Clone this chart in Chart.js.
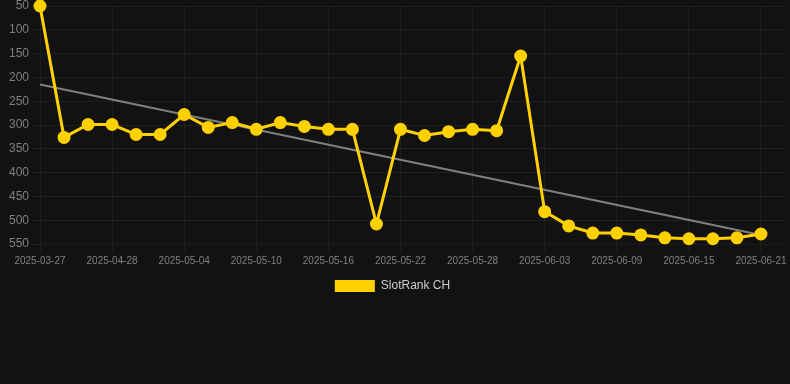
<!DOCTYPE html>
<html><head><meta charset="utf-8">
<script src="https://cdn.jsdelivr.net/npm/chart.js@4/dist/chart.umd.min.js"></script>
<style>html,body{margin:0;padding:0;background:#121212;}#wrap{width:790px;height:302px;position:relative;}</style>
</head><body><div id="wrap"><canvas id="c"></canvas></div>
<script>
const dates = ["2025-03-27","2025-04-24","2025-04-26","2025-04-28","2025-04-30","2025-05-02","2025-05-04","2025-05-06","2025-05-08","2025-05-10","2025-05-12","2025-05-14","2025-05-16","2025-05-18","2025-05-20","2025-05-22","2025-05-24","2025-05-26","2025-05-28","2025-05-30","2025-06-01","2025-06-03","2025-06-05","2025-06-07","2025-06-09","2025-06-11","2025-06-13","2025-06-15","2025-06-17","2025-06-19","2025-06-21","2025-06-23"];
const ranks = [50,326,299,299,320,320,278,305,295,309,295,303,309,309,508,309,322,314,309,312,155,482,512,527,527,531,537,539,539,537,529,null];
const trendStart = 215;
const trendEnd = 531;
const trendEndIndex = 30;
const yTicks = [50,100,150,200,250,300,350,400,450,500,550];
const trend = dates.map((d,i)=> i===0 ? trendStart : (i===trendEndIndex ? trendEnd : null));
new Chart(document.getElementById('c'), {
  type: 'line',
  data: { labels: dates, datasets: [
    { label: 'SlotRank CH', data: ranks, borderColor: '#FFD100', backgroundColor: '#FFD100', borderWidth: 3, pointRadius: 5, pointBackgroundColor:'#FFD100', tension: 0, order: 1, clip: false },
    { label: 'trend', data: trend, spanGaps: true, borderColor: 'rgba(140,140,140,0.9)', borderWidth: 2, pointRadius: 0, order: 2 }
  ]},
  options: {
    responsive: true, maintainAspectRatio: false, animation: false,
    layout: { autoPadding: false, padding: { top: 6, right: 5 } },
    plugins: { legend: { position: 'bottom', labels: { color: '#cccccc', font: { size: 12, family: 'Arial, Liberation Sans' }, boxWidth: 40, boxHeight: 12,
      generateLabels: (chart)=> Chart.defaults.plugins.legend.labels.generateLabels(chart).filter(it=>it.text!=='trend').map(it=>Object.assign(it,{lineWidth:0})) } } },
    scales: {
      x: { offset: false, grid: { color: 'rgba(255,255,255,0.06)' }, ticks: { color: '#808080', font: { size: 10, family: 'Arial, Liberation Sans' }, maxRotation: 0, autoSkip: false, callback: function(v,i){ return (i%3===0 && i<=30) ? this.getLabelForValue(v) : null; } } },
      y: { reverse: true, min: 50, max: 550, grid: { color: 'rgba(255,255,255,0.06)' }, afterBuildTicks: (ax)=>{ ax.ticks = yTicks.map(v=>({value:v})); }, afterFit: (ax)=>{ ax.width = 40; ax.paddingTop = 0; },
        ticks: { color: '#808080', font: { size: 12, family: 'Arial, Liberation Sans', lineHeight: 0.6 } } }
    }
  }
});
</script></body></html>
